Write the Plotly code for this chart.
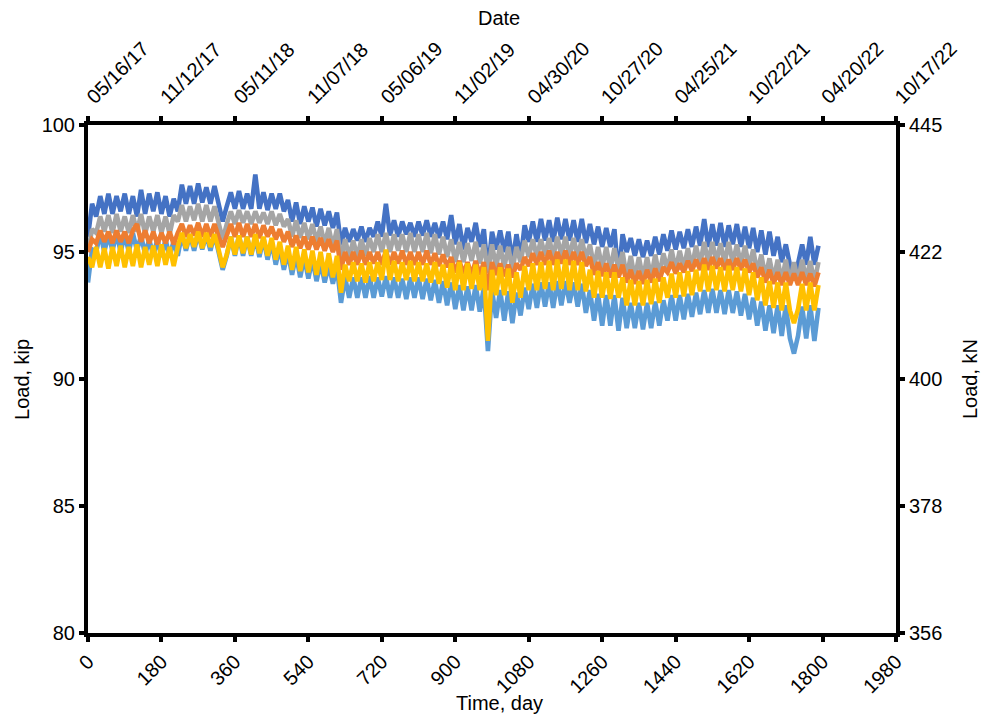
import plotly.graph_objects as go

# Sampling interval of the load records (days)
step_days = 10

dark_blue = [
    95.6, 96.9, 96.4, 97.2, 96.5, 97.3, 96.5, 97.2, 96.6, 97.3,
    96.5, 97.2, 96.4, 97.45, 96.5, 97.3, 96.6, 97.35, 96.5, 97.2,
    96.4, 97.1, 96.6, 97.65, 96.9, 97.6, 96.9, 97.7, 96.95, 97.55,
    96.9, 97.6, 96.9, 96.2, 96.8, 97.35, 96.7, 97.4, 96.7, 97.3,
    96.7, 98.05, 96.7, 97.35, 96.65, 97.3, 96.7, 97.3, 96.6, 97.05,
    96.2, 96.95, 96.1, 96.8, 96.2, 96.75, 96.0, 96.7, 96.05, 96.6,
    95.95, 96.55, 95.3, 95.95, 95.4, 95.9, 95.45, 96.0, 95.4, 95.95,
    95.6, 96.2, 95.6, 96.9, 95.65, 96.25, 95.6, 96.2, 95.7, 96.15,
    95.6, 96.2, 95.65, 96.25, 95.6, 96.15, 95.55, 96.2, 95.5, 96.45,
    95.3, 96.1, 95.1, 95.95, 95.4, 96.15, 95.2, 95.9, 94.2, 95.8,
    95.1, 95.85, 95.0, 95.8, 94.6, 95.7, 94.7, 96.05, 95.4, 96.2,
    95.4, 96.3, 95.45, 96.25, 95.4, 96.35, 95.5, 96.3, 95.45, 96.25,
    95.4, 96.3, 95.35, 96.1, 95.3, 96.0, 95.2, 95.95, 95.2, 95.9,
    94.0, 95.7, 95.0, 95.55, 94.85, 95.5, 94.8, 95.45, 94.85, 95.6,
    94.9, 95.7, 95.05, 95.85, 95.1, 95.8, 95.15, 95.9, 95.2, 96.0,
    95.25, 96.3, 95.2, 96.1, 95.25, 96.15, 95.2, 96.05, 95.3, 96.1,
    95.2, 96.0, 95.15, 95.95, 95.0, 95.85, 94.9, 95.8, 94.85, 95.6,
    94.6, 95.3, 94.5, 94.0, 94.55, 95.3, 94.5, 95.6, 94.5, 95.25,
]

grey = [
    95.0, 95.9, 95.75, 96.4, 95.8, 96.45, 95.75, 96.5, 95.8, 96.4,
    95.75, 96.45, 95.8, 96.5, 95.7, 96.4, 95.8, 96.45, 95.75, 96.4,
    95.7, 96.45, 96.2, 96.85, 96.2, 96.8, 96.25, 96.9, 96.2, 96.85,
    96.2, 96.8, 96.15, 95.5, 96.1, 96.6, 96.1, 96.65, 96.15, 96.6,
    96.1, 96.6, 96.15, 96.55, 96.1, 96.6, 96.05, 96.5, 96.0, 96.3,
    95.6, 96.25, 95.55, 96.15, 95.5, 96.1, 95.4, 96.0, 95.3, 95.95,
    95.2, 95.9, 94.7, 95.5, 94.8, 95.45, 94.8, 95.5, 94.85, 95.55,
    95.0, 95.7, 95.0, 95.75, 95.0, 95.7, 95.05, 95.7, 95.0, 95.75,
    95.0, 95.7, 95.0, 95.75, 94.95, 95.7, 94.9, 95.6, 94.8, 95.5,
    94.6, 95.4, 94.6, 95.35, 94.65, 95.4, 94.55, 95.3, 94.2, 95.3,
    94.4, 95.25, 94.4, 95.2, 94.3, 95.2, 94.6, 95.45, 94.8, 95.5,
    94.8, 95.5, 94.85, 95.55, 94.8, 95.6, 94.85, 95.6, 94.8, 95.55,
    94.8, 95.5, 94.75, 95.3, 94.4, 95.2, 94.35, 95.2, 94.3, 95.15,
    94.3, 95.0, 94.0, 94.85, 93.95, 94.8, 93.95, 94.8, 94.0, 94.9,
    94.05, 94.95, 94.3, 95.1, 94.3, 95.05, 94.35, 95.15, 94.4, 95.25,
    94.5, 95.4, 94.55, 95.4, 94.6, 95.35, 94.55, 95.4, 94.55, 95.3,
    94.5, 95.25, 94.4, 95.1, 94.2, 94.9, 94.0, 94.75, 93.9, 94.7,
    93.85, 94.7, 93.8, 94.6, 93.85, 94.7, 93.9, 94.65, 93.8, 94.6,
]

orange = [
    95.0, 95.5, 95.35, 95.85, 95.4, 95.8, 95.35, 95.85, 95.4, 95.8,
    95.35, 95.85, 96.1, 95.4, 95.85, 95.35, 95.8, 95.3, 95.75, 95.35,
    95.8, 95.3, 95.75, 96.1, 95.6, 96.05, 95.65, 96.15, 95.6, 96.1,
    95.6, 96.1, 95.6, 95.2, 95.65, 96.1, 95.6, 96.15, 95.6, 96.1,
    95.6, 96.1, 95.55, 96.05, 95.6, 96.0, 95.5, 95.9, 95.4, 95.8,
    95.2, 95.65, 95.15, 95.6, 95.1, 95.6, 95.1, 95.55, 95.05, 95.5,
    95.0, 95.45, 94.3, 95.0, 94.5, 95.0, 94.5, 95.05, 94.5, 95.0,
    94.55, 95.0, 94.5, 95.05, 94.5, 95.0, 94.55, 95.05, 94.5, 95.0,
    94.5, 95.0, 94.5, 95.05, 94.5, 94.95, 94.45, 94.9, 94.4, 94.8,
    94.2, 94.65, 94.15, 94.6, 94.1, 94.65, 94.1, 94.6, 93.5, 94.6,
    94.1, 94.55, 94.05, 94.5, 94.0, 94.55, 94.3, 94.8, 94.45, 94.95,
    94.5, 95.0, 94.5, 95.05, 94.5, 95.0, 94.55, 95.05, 94.5, 95.0,
    94.5, 95.0, 94.45, 94.8, 94.1, 94.6, 94.05, 94.55, 94.0, 94.5,
    94.0, 94.5, 93.8, 94.3, 93.75, 94.25, 93.75, 94.3, 93.8, 94.35,
    93.85, 94.4, 94.2, 94.6, 94.15, 94.55, 94.2, 94.65, 94.25, 94.7,
    94.3, 94.75, 94.3, 94.8, 94.35, 94.75, 94.3, 94.7, 94.3, 94.75,
    94.3, 94.7, 94.2, 94.55, 94.0, 94.4, 93.8, 94.3, 93.75, 94.2,
    93.7, 94.2, 93.7, 94.15, 93.7, 94.2, 93.7, 94.15, 93.65, 94.2,
]

yellow = [
    94.8, 94.4, 95.2, 94.4, 95.15, 94.35, 95.2, 94.45, 95.25, 94.4,
    95.2, 94.45, 95.3, 94.4, 95.2, 94.5, 95.25, 94.45, 95.3, 94.5,
    95.2, 94.45, 95.2, 95.75, 95.15, 95.7, 95.2, 95.8, 95.15, 95.75,
    95.2, 95.7, 95.1, 94.4, 94.9, 95.6, 94.9, 95.65, 94.95, 95.6,
    94.9, 95.7, 94.95, 95.6, 94.85, 95.55, 94.7, 95.4, 94.5, 95.25,
    94.3, 95.2, 94.25, 95.1, 94.2, 95.05, 94.1, 95.0, 94.05, 94.95,
    94.0, 94.85, 93.4, 94.5, 93.85, 94.6, 93.85, 94.55, 93.8, 94.6,
    93.85, 94.6, 93.9, 95.1, 93.9, 94.65, 93.85, 94.6, 93.9, 94.65,
    93.85, 94.6, 93.85, 94.55, 93.8, 94.6, 93.75, 94.5, 93.6, 94.55,
    93.5, 94.6, 93.5, 94.55, 93.55, 94.5, 93.5, 94.4, 91.5, 94.3,
    93.3, 94.4, 93.3, 94.35, 93.0, 94.2, 93.2, 94.45, 93.5, 94.55,
    93.5, 94.6, 93.55, 94.65, 93.5, 94.7, 93.55, 94.7, 93.5, 94.65,
    93.5, 94.6, 93.45, 94.3, 93.2, 94.25, 93.2, 94.2, 93.15, 94.2,
    93.2, 94.0, 92.9, 93.9, 92.9, 93.85, 92.9, 93.9, 92.95, 93.95,
    93.0, 94.0, 93.2, 94.15, 93.2, 94.2, 93.25, 94.25, 93.3, 94.3,
    93.45, 94.5, 93.45, 94.45, 93.5, 94.4, 93.45, 94.45, 93.5, 94.4,
    93.45, 94.35, 93.3, 94.2, 93.1, 94.0, 92.9, 93.85, 92.8, 93.8,
    92.7, 93.8, 92.7, 92.2, 92.75, 93.75, 92.7, 93.8, 92.7, 93.7,
]

light_blue = [
    93.8, 95.1, 95.0, 95.75, 95.0, 95.7, 95.05, 95.75, 95.0, 95.7,
    95.0, 95.75, 95.05, 95.65, 94.9, 95.5, 94.85, 95.5, 94.8, 95.5,
    94.8, 95.45, 94.85, 95.7, 95.05, 95.7, 95.05, 95.75, 95.1, 95.7,
    95.05, 95.7, 95.0, 94.3, 94.85, 95.6, 94.85, 95.65, 94.85, 95.6,
    94.85, 95.6, 94.8, 95.55, 94.7, 95.4, 94.5, 95.2, 94.3, 95.0,
    94.1, 94.9, 94.0, 94.8, 93.95, 94.75, 93.85, 94.6, 93.8, 94.5,
    93.75, 94.4, 93.0, 94.0, 93.2, 94.0, 93.2, 94.0, 93.2, 94.05,
    93.2, 94.0, 93.25, 94.05, 93.2, 94.0, 93.2, 93.95, 93.15, 94.0,
    93.2, 94.0, 93.15, 93.95, 93.1, 93.9, 93.0, 93.85, 92.9, 93.8,
    92.75, 93.7, 92.7, 93.65, 92.7, 93.7, 92.65, 93.6, 91.1, 93.5,
    92.4, 93.5, 92.3, 93.45, 92.2, 93.4, 92.5, 93.6, 92.75, 93.75,
    92.8, 93.8, 92.85, 93.8, 92.8, 93.85, 92.9, 93.85, 93.0, 93.8,
    92.85, 93.75, 92.6, 93.5, 92.3, 93.35, 92.1, 93.3, 92.1, 93.3,
    91.9, 93.2, 92.0, 93.0, 92.0, 93.0, 91.95, 93.0, 92.0, 93.05,
    92.1, 93.1, 92.3, 93.3, 92.3, 93.3, 92.35, 93.35, 92.45, 93.4,
    92.55, 93.5, 92.6, 93.55, 92.6, 93.5, 92.55, 93.5, 92.6, 93.45,
    92.5, 93.35, 92.35, 93.2, 92.1, 93.05, 91.9, 92.9, 91.8, 92.9,
    91.7, 92.9, 91.6, 91.0, 91.7, 92.85, 91.6, 92.9, 91.5, 92.8,
]

day_ticks = [0, 180, 360, 540, 720, 900, 1080, 1260, 1440, 1620, 1800, 1980]
date_labels = ["05/16/17", "11/12/17", "05/11/18", "11/07/18", "05/06/19", "11/02/19",
               "04/30/20", "10/27/20", "04/25/21", "10/22/21", "04/20/22", "10/17/22"]
kip_ticks = [80, 85, 90, 95, 100]
kn_labels = ["356", "378", "400", "422", "445"]

days = [i * step_days for i in range(len(dark_blue))]

# drawn bottom to top; the first one sits on the day/kip axes,
# the rest on the date/kN axes so that both axis pairs are rendered
series = [
    (light_blue, "#5B9BD5", "x", "y"),
    (dark_blue, "#4472C4", "x2", "y2"),
    (grey, "#A5A5A5", "x2", "y2"),
    (orange, "#ED7D31", "x2", "y2"),
    (yellow, "#FFC000", "x2", "y2"),
]

FONT = "Arial, Liberation Sans, sans-serif"

fig = go.Figure()
for vals, color, xa, ya in series:
    fig.add_trace(go.Scatter(x=days, y=vals, mode="lines", xaxis=xa, yaxis=ya,
                             line=dict(color=color, width=4.6),
                             showlegend=False, hoverinfo="skip"))

axis_common = dict(showline=True, linecolor="black", linewidth=4,
                   ticks="outside", ticklen=5, tickwidth=4, tickcolor="black",
                   showgrid=False, zeroline=False, automargin=False,
                   tickfont=dict(family=FONT, size=20, color="black"))

fig.update_layout(
    width=981, height=717,
    margin=dict(l=88, r=85, t=125, b=84),
    paper_bgcolor="white", plot_bgcolor="white",
    font=dict(family=FONT, size=20, color="black"),
    xaxis=dict(range=[0, 1980], tickvals=day_ticks, tickangle=-45, **axis_common),
    xaxis2=dict(range=[0, 1980], tickvals=day_ticks, ticktext=date_labels,
                tickangle=-45, overlaying="x", side="top", anchor="y",
                **axis_common),
    yaxis=dict(range=[80, 100], tickvals=kip_ticks, **axis_common),
    yaxis2=dict(range=[80, 100], tickvals=kip_ticks, ticktext=kn_labels,
                overlaying="y", side="right", anchor="x", **axis_common),
)

# axis titles
title_font = dict(family=FONT, size=20, color="black")
fig.add_annotation(text="Time, day", xref="paper", yref="paper", x=0.5087, y=-0.1378,
                   showarrow=False, font=title_font, xanchor="center", yanchor="middle")
fig.add_annotation(text="Date", xref="paper", yref="paper", x=0.5087, y=1.2106,
                   showarrow=False, font=title_font, xanchor="center", yanchor="middle")
fig.add_annotation(text="Load, kip", xref="paper", yref="paper", x=-0.0817, y=0.5,
                   showarrow=False, font=title_font, textangle=-90,
                   xanchor="center", yanchor="middle")
fig.add_annotation(text="Load, kN", xref="paper", yref="paper", x=1.0916, y=0.5,
                   showarrow=False, font=title_font, textangle=-90,
                   xanchor="center", yanchor="middle")

fig.write_html("out.html")
